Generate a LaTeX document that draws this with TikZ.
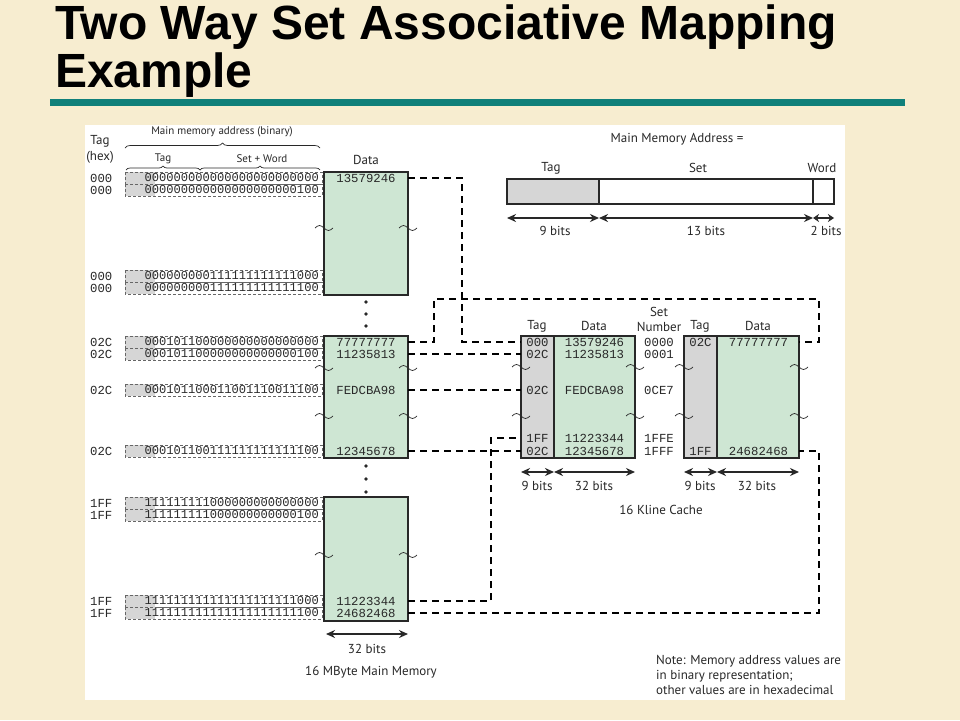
\documentclass[tikz,border=0pt]{standalone}
\usepackage{fontspec}
\setmainfont{PT Sans}
\setmonofont{Liberation Mono}
\newfontfamily\titlefont{Liberation Sans}
\usetikzlibrary{arrows.meta,decorations.pathreplacing}

\definecolor{paper}{RGB}{247,237,208}
\definecolor{rulecol}{RGB}{16,128,122}
\definecolor{memgreen}{RGB}{206,230,211}
\definecolor{taggray}{RGB}{214,214,214}
\definecolor{ink}{RGB}{40,40,40}

\tikzset{
  lbl/.style={font=\fontsize{13}{15}\selectfont, text=ink, inner sep=0pt},
  tinylbl/.style={font=\fontsize{11}{13}\selectfont, text=ink, inner sep=0pt},
  mono/.style={font=\ttfamily\fontsize{12.3}{12}\selectfont, text=ink, inner sep=0pt},
  bitstr/.style={font=\ttfamily\fontsize{12.1}{12}\selectfont, text=ink, inner sep=0pt},
  memval/.style={mono, minimum width=84pt, minimum height=11pt},
  ctag/.style={mono, minimum width=33pt, minimum height=11pt},
  cval/.style={mono, minimum width=81pt, minimum height=11pt},
  block/.style={draw=ink, line width=1.6pt, fill=memgreen},
  tagblock/.style={draw=ink, line width=1.6pt, fill=taggray},
  addr/.style={draw=gray!80!black, densely dashed, line width=0.6pt},
  link/.style={draw=black, line width=2pt, dash pattern=on 7pt off 5pt},
  brk/.style={draw=ink, line width=0.7pt},
  bitsarrow/.style={draw=ink, line width=1.8pt, {Stealth[length=9pt,width=8pt]}-{Stealth[length=9pt,width=8pt]}},
}

\begin{document}
\begin{tikzpicture}[x=1pt, y=-1pt]
    \fill[paper] (0,0) rectangle (960,720);
    \useasboundingbox (0,0) rectangle (960,720);
    \fill[white] (85,125) rectangle (845,700);
    \fill[rulecol] (50,99) rectangle (905,106);

    \node[anchor=base west, inner sep=0pt, font=\titlefont\bfseries\fontsize{48}{52}\selectfont] (title1) at (55,39) {Two Way Set Associative Mapping};
    \node[anchor=base west, inner sep=0pt, font=\titlefont\bfseries\fontsize{48}{52}\selectfont] (title2) at (55,87) {Example};

    \node[lbl] (taghex) at (100,141) {Tag};
    \node[lbl] (hexlbl) at (100,157) {(hex)};
    \node[tinylbl] (mainaddr) at (222,132) {Main memory address (binary)};
    \draw[brk, decorate, decoration={brace, amplitude=5pt}] (125,148) -- (320,148);
    \node[tinylbl] (tagsub) at (163,159) {Tag};
    \node[tinylbl] (setword) at (262,159) {Set + Word};
    \draw[brk, decorate, decoration={brace, amplitude=4pt}] (126,170) -- (200,170);
    \draw[brk, decorate, decoration={brace, amplitude=4pt}] (200,170) -- (320,170);

    \foreach \y/\hx/\bits in {178/000/000000000000000000000000, 190/000/000000000000000000000100,
        276/000/000000000111111111111000, 288/000/000000000111111111111100,
        342/02C/000101100000000000000000, 354/02C/000101100000000000000100,
        390/02C/000101100011001110011100, 451/02C/000101100111111111111100,
        503/1FF/111111111000000000000000, 515/1FF/111111111000000000000100,
        601/1FF/111111111111111111111000, 613/1FF/111111111111111111111100} {
        \fill[taggray] (125,\y-6) rectangle (155,\y+6);
        \draw[addr] (125,\y-6) rectangle (322,\y+6);
        \node[mono, anchor=west] (hx\y) at (90,\y) {\hx};
        \node[bitstr, anchor=east] (bits\y) at (319,\y) {\bits};
    }

    \node[lbl] (datahead) at (366,160) {Data};
    \draw[block] (324,172) rectangle (408,295);
    \draw[block] (324,336) rectangle (408,458);
    \draw[block] (324,497) rectangle (408,621);
    \foreach \y in {302,314,326,466,479,492}
        \fill[ink] (366,\y) circle (1.8);

    \node[memval] (md1) at (366,178) {13579246};
    \node[memval] (md2) at (366,342) {77777777};
    \node[memval] (md3) at (366,354) {11235813};
    \node[memval] (md4) at (366,390) {FEDCBA98};
    \node[memval] (md5) at (366,451) {12345678};
    \node[memval] (md6) at (366,601) {11223344};
    \node[memval] (md7) at (366,613) {24682468};

    \draw[bitsarrow] (326,634) -- (408,634);
    \node[lbl] (membits) at (367,649) {32 bits};
    \node[lbl] (memname) at (371,672) {16 MByte Main Memory};

    \node[lbl] (addrtitle) at (677,139) {Main Memory Address =};
    \node[lbl] (ftag) at (551,168) {Tag};
    \node[lbl] (fset) at (698,168) {Set};
    \node[lbl] (fword) at (822,168) {Word};
    \draw[tagblock, line width=1.4pt] (507,179) rectangle (599,204);
    \draw[draw=ink, line width=1.4pt] (599,179) rectangle (813,204) (813,179) rectangle (834,204);
    \draw[bitsarrow] (507,218) -- (599,218);
    \draw[bitsarrow] (599,218) -- (813,218);
    \draw[draw=ink, line width=1.8pt, {Stealth[length=6pt,width=8pt]}-{Stealth[length=6pt,width=8pt]}] (813,218) -- (834,218);
    \node[lbl] (ftagbits) at (555,231) {9 bits};
    \node[lbl] (fsetbits) at (706,231) {13 bits};
    \node[lbl] (fwordbits) at (826,231) {2 bits};

    \draw[tagblock] (521,336) rectangle (554,458);
    \draw[block] (554,336) rectangle (635,458);
    \draw[tagblock] (684,336) rectangle (717,458);
    \draw[block] (717,336) rectangle (799,458);
    \node[lbl] (ctaghead) at (537,326) {Tag};
    \node[lbl] (cdatahead) at (594,326) {Data};
    \node[lbl] (sethead) at (659,312) {Set};
    \node[lbl] (numhead) at (659,327) {Number};
    \node[lbl] (wtaghead) at (700,326) {Tag};
    \node[lbl] (wdatahead) at (758,326) {Data};

    \node[ctag] (ct1) at (537.5,342) {000};
    \node[ctag] (ct2) at (537.5,354) {02C};
    \node[ctag] (ct3) at (537.5,390) {02C};
    \node[ctag] (ct4) at (537.5,438) {1FF};
    \node[ctag] (ct5) at (537.5,451) {02C};
    \node[cval] (cd1) at (594.5,342) {13579246};
    \node[cval] (cd2) at (594.5,354) {11235813};
    \node[cval] (cd3) at (594.5,390) {FEDCBA98};
    \node[cval] (cd4) at (594.5,438) {11223344};
    \node[cval] (cd5) at (594.5,451) {12345678};
    \node[mono] (sn1) at (659,342) {0000};
    \node[mono] (sn2) at (659,354) {0001};
    \node[mono] (sn3) at (659,390) {0CE7};
    \node[mono] (sn4) at (659,438) {1FFE};
    \node[mono] (sn5) at (659,451) {1FFF};
    \node[ctag] (wt1) at (700.5,342) {02C};
    \node[ctag] (wt2) at (700.5,451) {1FF};
    \node[cval] (wd1) at (758.5,342) {77777777};
    \node[cval] (wd2) at (758.5,451) {24682468};

    \draw[bitsarrow] (521,472) -- (554,472);
    \draw[bitsarrow] (554,472) -- (635,472);
    \draw[bitsarrow] (684,472) -- (717,472);
    \draw[bitsarrow] (717,472) -- (799,472);
    \node[lbl] (ctagbits) at (537,486) {9 bits};
    \node[lbl] (cdatabits) at (594,486) {32 bits};
    \node[lbl] (wtagbits) at (700,486) {9 bits};
    \node[lbl] (wdatabits) at (757,486) {32 bits};
    \node[lbl] (cachename) at (661,510) {16 Kline Cache};

    \foreach \x/\y in {324/228, 408/228, 324/368, 408/368, 324/416, 408/416, 324/555, 408/555,
        521/367, 635/367, 521/416, 635/416, 684/367, 799/367, 684/416, 799/416}
        \draw[brk] (\x-9,\y) sin (\x-4.5,\y-2.5) cos (\x,\y) sin (\x+4.5,\y+2.5) cos (\x+9,\y);

    \draw[link] (md1.east) -- ++(54,0) |- (ct1.west);
    \draw[link] (md2.east) -- ++(26,0) |- (819,299) |- (wd1.east);
    \draw[link] (md3.east) -- (ct2.west);
    \draw[link] (md4.east) -- (ct3.west);
    \draw[link] (md5.east) -- (ct5.west);
    \draw[link] (md6.east) -- ++(83,0) |- (ct4.west);
    \draw[link] (md7.east) -- (819,613) |- (wd2.east);

    \node[anchor=west, align=left, inner sep=0pt, text=ink, font=\fontsize{13}{15}\selectfont] (note) at (656,675)
        {Note: Memory address values are\\in binary representation;\\other values are in hexadecimal};
\end{tikzpicture}
\end{document}
